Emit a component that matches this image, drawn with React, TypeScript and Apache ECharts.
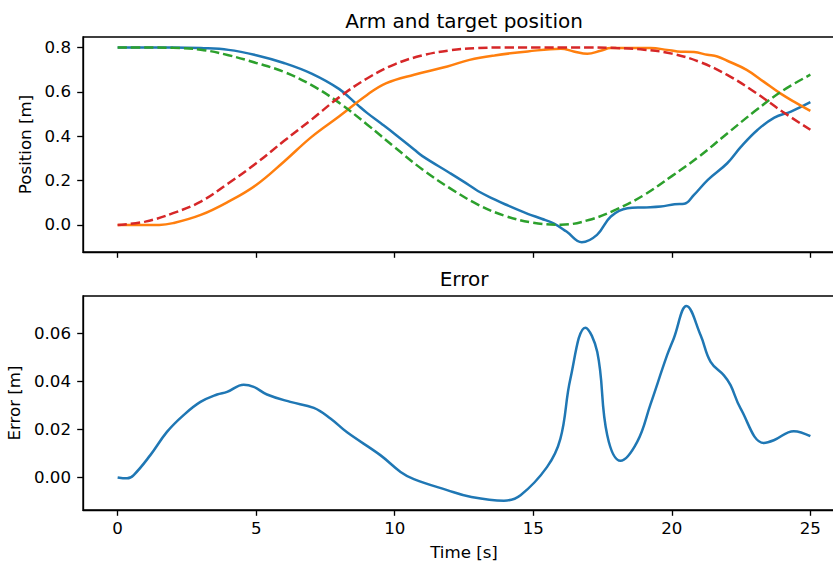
import React, { useEffect, useRef } from "react";
import * as echarts from "echarts";

// ---- data ----
const armX: [number, number][] = [
  [0, 0.8], [1, 0.8], [2, 0.8], [3, 0.797], [4, 0.789], [5, 0.765], [6, 0.73],
  [7, 0.682], [8, 0.612], [8.66, 0.541], [9, 0.505], [9.5, 0.458], [10, 0.41],
  [10.7, 0.34], [11, 0.31], [12, 0.233], [12.7, 0.178], [13, 0.153], [13.6, 0.115],
  [14, 0.092], [14.8, 0.05], [15.3, 0.028], [15.75, 0.006], [16.2, -0.03], [16.75, -0.078],
  [17.3, -0.045], [17.8, 0.038], [18.4, 0.075], [19, 0.079], [19.6, 0.083], [20.1, 0.093],
  [20.45, 0.095], [20.8, 0.135], [21.3, 0.203], [22, 0.278], [22.5, 0.353], [23.1, 0.429],
  [23.7, 0.484], [24.3, 0.511], [25, 0.553],
];
const armY: [number, number][] = [
  [0, 0.0], [1, 0.0], [1.5, 0.0], [2, 0.008], [3, 0.045], [4, 0.105], [5, 0.18],
  [6, 0.285], [7, 0.397], [8, 0.49], [9, 0.586], [9.7, 0.639], [10.7, 0.677],
  [11.9, 0.714], [12.7, 0.744], [13.6, 0.764], [14.8, 0.782], [16, 0.794], [16.46, 0.782],
  [16.95, 0.771], [17.43, 0.785], [17.8, 0.797], [19.23, 0.797], [19.83, 0.789],
  [20.2, 0.782], [20.8, 0.779], [21.28, 0.767], [21.64, 0.759], [22, 0.74], [22.7, 0.699],
  [23.3, 0.647], [23.9, 0.594], [24.5, 0.549], [25, 0.514],
];
const targetX: [number, number][] = [
  [0, 0.8], [1, 0.8], [2, 0.798], [3, 0.79], [4, 0.765], [5, 0.73], [6, 0.69],
  [7, 0.63], [8, 0.55], [9, 0.453], [10, 0.35], [11, 0.25], [12, 0.165], [13, 0.092],
  [14, 0.04], [15, 0.01], [16, 0.001], [17, 0.022], [18, 0.07], [19, 0.135], [20, 0.22],
  [21, 0.31], [22, 0.412], [23, 0.513], [24, 0.605], [25, 0.677],
];
const targetY: [number, number][] = [
  [0, 0.0], [1, 0.015], [2, 0.053], [3, 0.105], [4, 0.188], [5, 0.278], [6, 0.378],
  [7, 0.475], [8, 0.576], [9, 0.66], [10, 0.724], [11, 0.764], [12, 0.787], [13, 0.797],
  [14, 0.8], [15, 0.8], [16, 0.8], [17, 0.8], [18, 0.797], [19, 0.79], [20, 0.772],
  [21, 0.735], [22, 0.676], [23, 0.598], [24, 0.51], [25, 0.429],
];
const errorData: [number, number][] = [
  [0, 0.0], [0.34, -0.0004], [0.58, 0.001], [1.18, 0.0093], [1.78, 0.019], [2.38, 0.026],
  [2.99, 0.0315], [3.59, 0.0346], [3.95, 0.0357], [4.55, 0.0387], [4.91, 0.0378],
  [5.39, 0.0346], [6.23, 0.0315], [7.08, 0.029], [7.68, 0.0246], [8.28, 0.0188],
  [9.48, 0.0093], [10.21, 0.0023], [10.69, -0.0007], [11.89, -0.0053], [12.73, -0.0081],
  [13.94, -0.0097], [14.54, -0.0074], [15.5, 0.0044], [15.98, 0.0162], [16.34, 0.0412],
  [16.88, 0.0625], [17.31, 0.0523], [17.67, 0.0176], [18.15, 0.0069], [18.75, 0.0148],
  [19.23, 0.0305], [19.83, 0.051], [20.07, 0.058], [20.53, 0.0715], [21.04, 0.0593],
  [21.4, 0.0482], [21.88, 0.0426], [22.12, 0.0385], [22.48, 0.0288], [23.32, 0.0144],
  [23.68, 0.0155], [24.4, 0.0193], [25, 0.0172],
];
const xTicks = [0, 5, 10, 15, 20, 25];
const posTicks = [0, 0.2, 0.4, 0.6, 0.8];
const errTicks = [0, 0.02, 0.04, 0.06];

const FONT = "DejaVu Sans";
const FS = 16.67;
const TFS = 20;

export default function App() {
  const ref = useRef<HTMLDivElement>(null);
  useEffect(() => {
    if (!ref.current) return;
    const chart = echarts.init(ref.current, undefined, { renderer: "svg" });
    const axisLine = { show: true, onZero: false, lineStyle: { color: "#000", width: 1.33 } };
    const tick = (vals: number[]) => ({
      show: true, length: 5.8, inside: false, customValues: vals,
      lineStyle: { color: "#000", width: 1.33 },
    });
    const xAxisBase = (gi: number, labels: boolean) => ({
      type: "value", gridIndex: gi, min: -1.25, max: 26.25,
      axisLine, axisTick: tick(xTicks), splitLine: { show: false },
      axisLabel: {
        show: labels, customValues: xTicks, margin: 10,
        color: "#000", fontFamily: FONT, fontSize: FS,
        formatter: (v: number) => String(v),
      },
      ...(labels ? {
        name: "Time [s]", nameLocation: "middle", nameGap: 34,
        nameTextStyle: { color: "#000", fontFamily: FONT, fontSize: FS },
      } : {}),
    });
    const dashed = [9.25, 4];
    const smooth = 0.4;
    const lw = 2.5;
    chart.setOption({
      animation: false,
      backgroundColor: "#fff",
      grid: [
        { left: 83, top: 37, width: 762, height: 215, show: true, borderColor: "#000", borderWidth: 1.33, outerBoundsMode: "none" },
        { left: 83, top: 296, width: 762, height: 214, show: true, borderColor: "#000", borderWidth: 1.33, outerBoundsMode: "none" },
      ],
      graphic: [
        { type: "text", x: 464, y: 21, style: { text: "Arm and target position", font: `${TFS}px ${FONT}`, fill: "#000", align: "center", verticalAlign: "middle" } },
        { type: "text", x: 464, y: 279, style: { text: "Error", font: `${TFS}px ${FONT}`, fill: "#000", align: "center", verticalAlign: "middle" } },
      ],
      xAxis: [xAxisBase(0, false), xAxisBase(1, true)],
      yAxis: [
        {
          type: "value", gridIndex: 0, min: -0.122, max: 0.847,
          axisLine, axisTick: tick(posTicks), splitLine: { show: false },
          axisLabel: { customValues: posTicks, margin: 12, color: "#000", fontFamily: FONT, fontSize: FS, formatter: (v: number) => v.toFixed(1) },
          name: "Position [m]", nameLocation: "middle", nameGap: 45,
          nameTextStyle: { color: "#000", fontFamily: FONT, fontSize: FS },
        },
        {
          type: "value", gridIndex: 1, min: -0.0136, max: 0.0757,
          axisLine, axisTick: tick(errTicks), splitLine: { show: false },
          axisLabel: { customValues: errTicks, margin: 12, color: "#000", fontFamily: FONT, fontSize: FS, formatter: (v: number) => v.toFixed(2) },
          name: "Error [m]", nameLocation: "middle", nameGap: 55,
          nameTextStyle: { color: "#000", fontFamily: FONT, fontSize: FS },
        },
      ],
      series: [
        { type: "line", xAxisIndex: 0, yAxisIndex: 0, data: armX, showSymbol: false, smooth, lineStyle: { color: "#1f77b4", width: lw } },
        { type: "line", xAxisIndex: 0, yAxisIndex: 0, data: armY, showSymbol: false, smooth, lineStyle: { color: "#ff7f0e", width: lw } },
        { type: "line", xAxisIndex: 0, yAxisIndex: 0, data: targetX, showSymbol: false, smooth, lineStyle: { color: "#2ca02c", width: lw, type: dashed } },
        { type: "line", xAxisIndex: 0, yAxisIndex: 0, data: targetY, showSymbol: false, smooth, lineStyle: { color: "#d62728", width: lw, type: dashed } },
        { type: "line", xAxisIndex: 1, yAxisIndex: 1, data: errorData, showSymbol: false, smooth, lineStyle: { color: "#1f77b4", width: lw } },
      ],
    });
    return () => chart.dispose();
  }, []);
  return (
    <div style={{ position: "fixed", left: 0, top: 0, width: 833, height: 565, overflow: "hidden", background: "#fff" }}>
      <div ref={ref} style={{ width: 870, height: 565 }} />
    </div>
  );
}
